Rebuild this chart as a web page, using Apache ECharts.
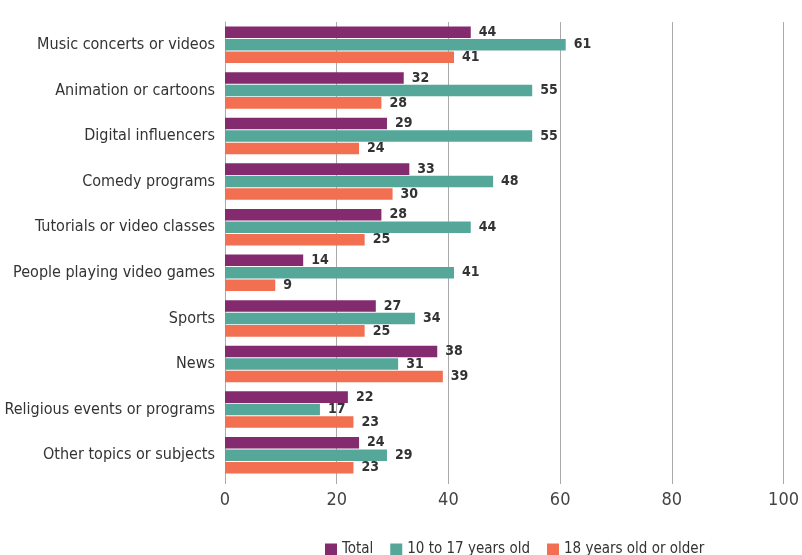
<!DOCTYPE html>
<html>
<head>
<meta charset="utf-8">
<script src="https://cdn.jsdelivr.net/npm/echarts@6/dist/echarts.min.js"></script>
<style>
  html, body { margin: 0; padding: 0; background: #ffffff; }
  #chart { width: 802px; height: 555px; }
</style>
</head>
<body>
<div id="chart"></div>
<script>
// Content topics, listed top to bottom
const categories = [
  'Music concerts or videos',
  'Animation or cartoons',
  'Digital influencers',
  'Comedy programs',
  'Tutorials or video classes',
  'People playing video games',
  'Sports',
  'News',
  'Religious events or programs',
  'Other topics or subjects'
];
const seriesNames = ['Total', '10 to 17 years old', '18 years old or older'];
const totalValues = [44, 32, 29, 33, 28, 14, 27, 38, 22, 24];
const teenValues  = [61, 55, 55, 48, 44, 41, 34, 31, 17, 29];
const adultValues = [41, 28, 24, 30, 25, 9, 25, 39, 23, 23];
const xTicks = { min: 0, max: 100, interval: 20 };

const FONT = '"Liberation Sans Narrow", "DejaVu Sans Condensed", Roboto, sans-serif';
const colors = ['#842b6f', '#55a899', '#f26f52'];

function barSeries(name, data, color) {
  return {
    name: name,
    type: 'bar',
    data: data,
    itemStyle: { color: color },
    barGap: '8%',
    barCategoryGap: '20%',
    label: {
      show: true,
      position: 'right',
      distance: 8,
      color: '#333333',
      fontFamily: FONT,
      fontWeight: 'bold',
      fontSize: 14
    }
  };
}

const chart = echarts.init(document.getElementById('chart'), null, { renderer: 'canvas' });
chart.setOption({
  animation: false,
  color: colors,
  grid: { left: 225, right: 15, top: 22, bottom: 77, containLabel: false },
  legend: {
    top: 537,
    left: 320,
    itemWidth: 12,
    itemHeight: 12,
    itemGap: 17,
    icon: 'rect',
    textStyle: { fontFamily: FONT, fontSize: 15, color: '#333333' },
    data: seriesNames
  },
  xAxis: {
    type: 'value',
    min: xTicks.min,
    max: xTicks.max,
    interval: xTicks.interval,
    axisLine: { show: false },
    axisTick: { show: true, length: 6, lineStyle: { color: '#aaaaaa' } },
    axisLabel: { fontFamily: FONT, fontSize: 18, color: '#444444', margin: 13 },
    splitLine: { show: true, lineStyle: { color: '#aaaaaa', width: 1 } }
  },
  yAxis: {
    type: 'category',
    data: categories,
    inverse: true,
    axisLine: { show: true, lineStyle: { color: '#aaaaaa' } },
    axisTick: { show: false },
    axisLabel: { fontFamily: FONT, fontSize: 16, color: '#333333', margin: 10 }
  },
  series: [
    barSeries(seriesNames[0], totalValues, colors[0]),
    barSeries(seriesNames[1], teenValues, colors[1]),
    barSeries(seriesNames[2], adultValues, colors[2])
  ]
});
</script>
</body>
</html>
